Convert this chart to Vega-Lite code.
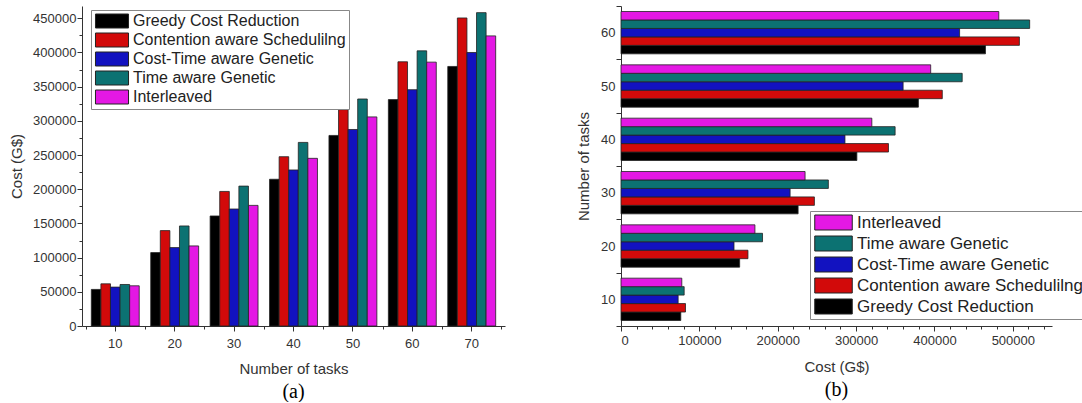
{
  "$schema": "https://vega.github.io/schema/vega-lite/v6.json",
  "padding": {"left": 9, "top": 0, "right": 0, "bottom": 0},
  "background": "#ffffff",
  "datasets": {
    "a": [
      {"tasks": 10, "method": "Greedy Cost Reduction", "cost": 53500},
      {"tasks": 10, "method": "Contention aware Schedulilng", "cost": 61700},
      {"tasks": 10, "method": "Cost-Time aware Genetic", "cost": 56900},
      {"tasks": 10, "method": "Time aware Genetic", "cost": 60700},
      {"tasks": 10, "method": "Interleaved", "cost": 58800},
      {"tasks": 20, "method": "Greedy Cost Reduction", "cost": 107400},
      {"tasks": 20, "method": "Contention aware Schedulilng", "cost": 139500},
      {"tasks": 20, "method": "Cost-Time aware Genetic", "cost": 114700},
      {"tasks": 20, "method": "Time aware Genetic", "cost": 146300},
      {"tasks": 20, "method": "Interleaved", "cost": 117100},
      {"tasks": 30, "method": "Greedy Cost Reduction", "cost": 160900},
      {"tasks": 30, "method": "Contention aware Schedulilng", "cost": 196800},
      {"tasks": 30, "method": "Cost-Time aware Genetic", "cost": 171100},
      {"tasks": 30, "method": "Time aware Genetic", "cost": 204600},
      {"tasks": 30, "method": "Interleaved", "cost": 176400},
      {"tasks": 40, "method": "Greedy Cost Reduction", "cost": 214600},
      {"tasks": 40, "method": "Contention aware Schedulilng", "cost": 247600},
      {"tasks": 40, "method": "Cost-Time aware Genetic", "cost": 228200},
      {"tasks": 40, "method": "Time aware Genetic", "cost": 268500},
      {"tasks": 40, "method": "Interleaved", "cost": 245200},
      {"tasks": 50, "method": "Greedy Cost Reduction", "cost": 278700},
      {"tasks": 50, "method": "Contention aware Schedulilng", "cost": 316500},
      {"tasks": 50, "method": "Cost-Time aware Genetic", "cost": 287400},
      {"tasks": 50, "method": "Time aware Genetic", "cost": 332000},
      {"tasks": 50, "method": "Interleaved", "cost": 305800},
      {"tasks": 60, "method": "Greedy Cost Reduction", "cost": 331100},
      {"tasks": 60, "method": "Contention aware Schedulilng", "cost": 386400},
      {"tasks": 60, "method": "Cost-Time aware Genetic", "cost": 345600},
      {"tasks": 60, "method": "Time aware Genetic", "cost": 402400},
      {"tasks": 60, "method": "Interleaved", "cost": 385900},
      {"tasks": 70, "method": "Greedy Cost Reduction", "cost": 379600},
      {"tasks": 70, "method": "Contention aware Schedulilng", "cost": 450500},
      {"tasks": 70, "method": "Cost-Time aware Genetic", "cost": 400000},
      {"tasks": 70, "method": "Time aware Genetic", "cost": 458300},
      {"tasks": 70, "method": "Interleaved", "cost": 424300}
    ],
    "b": [
      {"tasks": 10, "method": "Greedy Cost Reduction", "cost": 76300},
      {"tasks": 10, "method": "Contention aware Schedulilng", "cost": 82300},
      {"tasks": 10, "method": "Cost-Time aware Genetic", "cost": 72900},
      {"tasks": 10, "method": "Time aware Genetic", "cost": 80600},
      {"tasks": 10, "method": "Interleaved", "cost": 77600},
      {"tasks": 20, "method": "Greedy Cost Reduction", "cost": 151400},
      {"tasks": 20, "method": "Contention aware Schedulilng", "cost": 162000},
      {"tasks": 20, "method": "Cost-Time aware Genetic", "cost": 144200},
      {"tasks": 20, "method": "Time aware Genetic", "cost": 180600},
      {"tasks": 20, "method": "Interleaved", "cost": 170900},
      {"tasks": 30, "method": "Greedy Cost Reduction", "cost": 226000},
      {"tasks": 30, "method": "Contention aware Schedulilng", "cost": 246800},
      {"tasks": 30, "method": "Cost-Time aware Genetic", "cost": 215800},
      {"tasks": 30, "method": "Time aware Genetic", "cost": 264600},
      {"tasks": 30, "method": "Interleaved", "cost": 234900},
      {"tasks": 40, "method": "Greedy Cost Reduction", "cost": 301000},
      {"tasks": 40, "method": "Contention aware Schedulilng", "cost": 341300},
      {"tasks": 40, "method": "Cost-Time aware Genetic", "cost": 285800},
      {"tasks": 40, "method": "Time aware Genetic", "cost": 349800},
      {"tasks": 40, "method": "Interleaved", "cost": 320100},
      {"tasks": 50, "method": "Greedy Cost Reduction", "cost": 379500},
      {"tasks": 50, "method": "Contention aware Schedulilng", "cost": 410000},
      {"tasks": 50, "method": "Cost-Time aware Genetic", "cost": 360000},
      {"tasks": 50, "method": "Time aware Genetic", "cost": 435400},
      {"tasks": 50, "method": "Interleaved", "cost": 395200},
      {"tasks": 60, "method": "Greedy Cost Reduction", "cost": 465100},
      {"tasks": 60, "method": "Contention aware Schedulilng", "cost": 508400},
      {"tasks": 60, "method": "Cost-Time aware Genetic", "cost": 432100},
      {"tasks": 60, "method": "Time aware Genetic", "cost": 521500},
      {"tasks": 60, "method": "Interleaved", "cost": 482100}
    ]
  },
  "config": {
    "view": {"stroke": null},
    "font": "Liberation Sans",
    "axis": {
      "labelFont": "Liberation Sans",
      "titleFont": "Liberation Sans",
      "labelFontSize": 13,
      "titleFontSize": 15,
      "titleFontWeight": "normal",
      "labelColor": "#333333",
      "titleColor": "#333333",
      "domainColor": "#333333",
      "tickColor": "#333333",
      "grid": false
    },
    "legend": {
      "labelFont": "Liberation Sans",
      "labelColor": "#222222",
      "strokeColor": "#888888",
      "symbolStrokeColor": "#222222",
      "symbolStrokeWidth": 1,
      "symbolOpacity": 1,
      "title": null
    }
  },
  "resolve": {"scale": {"color": "independent"}, "legend": {"color": "independent"}},
  "spacing": 71,
  "hconcat": [
    {
      "width": 423,
      "height": 320,
      "data": {"name": "a"},
      "title": {"text": "(a)", "orient": "bottom", "font": "Liberation Serif", "fontSize": 20, "fontWeight": "normal", "color": "#000000", "offset": 6},
      "layer": [
        {
          "mark": {"type": "bar", "stroke": "#222222", "strokeWidth": 0.8},
          "encoding": {
            "x": {
              "field": "tasks", "type": "ordinal",
              "scale": {"paddingInner": 0, "paddingOuter": 0.06},
              "axis": {"orient": "bottom", "title": "Number of tasks", "labelAngle": 0, "tickSize": 5, "labelPadding": 6, "titlePadding": 11}
            },
            "xOffset": {
              "field": "method",
              "sort": ["Greedy Cost Reduction", "Contention aware Schedulilng", "Cost-Time aware Genetic", "Time aware Genetic", "Interleaved"],
              "scale": {"paddingInner": 0, "paddingOuter": 0.6}
            },
            "y": {
              "field": "cost", "type": "quantitative",
              "scale": {"domain": [0, 468000], "nice": false},
              "axis": {
                "title": "Cost (G$)",
                "format": "d",
                "values": [0, 25000, 50000, 75000, 100000, 125000, 150000, 175000, 200000, 225000, 250000, 275000, 300000, 325000, 350000, 375000, 400000, 425000, 450000],
                "labelExpr": "datum.value % 50000 === 0 ? datum.label : ''",
                "tickSize": {"condition": {"test": "datum.value % 50000 !== 0", "value": 3}, "value": 5},
                "labelPadding": 1,
                "titlePadding": 8
              }
            },
            "color": {
              "field": "method",
              "scale": {
                "domain": ["Greedy Cost Reduction", "Contention aware Schedulilng", "Cost-Time aware Genetic", "Time aware Genetic", "Interleaved"],
                "range": ["#000000", "#d20a0a", "#1212c0", "#0c7272", "#e418e4"]
              },
              "legend": {
                "orient": "none", "legendX": 9, "legendY": 4,
                "symbolType": "M-2.36,-1H2.36V1H-2.36Z", "symbolSize": 196,
                "symbolOffset": 10,
                "labelFontSize": 16, "rowPadding": 1, "padding": 3, "labelOffset": 13,
                "labelLimit": 400
              }
            }
          }
        },
        {
          "mark": {"type": "bar", "opacity": 0},
          "encoding": {
            "x": {
              "field": "tasks", "type": "ordinal",
              "axis": {"orient": "bottom", "tickBand": "extent", "labels": false, "domain": false, "title": null, "tickSize": 3}
            },
            "xOffset": {
              "field": "method",
              "sort": ["Greedy Cost Reduction", "Contention aware Schedulilng", "Cost-Time aware Genetic", "Time aware Genetic", "Interleaved"]
            }
          }
        }
      ],
      "resolve": {"axis": {"x": "independent"}}
    },
    {
      "width": 431,
      "height": 320,
      "data": {"name": "b"},
      "title": {"text": "(b)", "orient": "bottom", "font": "Liberation Serif", "fontSize": 20, "fontWeight": "normal", "color": "#000000", "offset": 6},
      "mark": {"type": "bar", "stroke": "#222222", "strokeWidth": 0.8},
      "encoding": {
        "y": {
          "field": "tasks", "type": "ordinal", "sort": "descending",
          "scale": {"paddingInner": 0, "paddingOuter": 0},
          "axis": {"title": "Number of tasks", "tickBand": "extent", "tickSize": 5, "labelPadding": 1, "titlePadding": 9}
        },
        "yOffset": {
          "field": "method",
          "sort": ["Interleaved", "Time aware Genetic", "Cost-Time aware Genetic", "Contention aware Schedulilng", "Greedy Cost Reduction"],
          "scale": {"paddingInner": 0, "paddingOuter": 0.65}
        },
        "x": {
          "field": "cost", "type": "quantitative",
          "scale": {"domain": [0, 550000], "nice": false},
          "axis": {
            "title": "Cost (G$)",
            "format": "d",
            "values": [0, 20000, 40000, 60000, 80000, 100000, 120000, 140000, 160000, 180000, 200000, 220000, 240000, 260000, 280000, 300000, 320000, 340000, 360000, 380000, 400000, 420000, 440000, 460000, 480000, 500000, 520000, 540000],
            "labelExpr": "datum.value % 100000 === 0 ? datum.label : ''",
            "tickSize": {"condition": {"test": "datum.value % 100000 !== 0", "value": 3}, "value": 5},
            "labelPadding": 3,
            "titlePadding": 12
          }
        },
        "color": {
          "field": "method",
          "scale": {
            "domain": ["Interleaved", "Time aware Genetic", "Cost-Time aware Genetic", "Contention aware Schedulilng", "Greedy Cost Reduction"],
            "range": ["#e418e4", "#0c7272", "#1212c0", "#d20a0a", "#000000"]
          },
          "legend": {
            "orient": "none", "legendX": 189, "legendY": 205,
            "symbolType": "M-2.5,-1H2.5V1H-2.5Z", "symbolSize": 225,
            "symbolOffset": 12,
            "labelFontSize": 17, "rowPadding": 2, "padding": 3, "labelOffset": 15,
            "labelLimit": 400
          }
        }
      }
    }
  ]
}
